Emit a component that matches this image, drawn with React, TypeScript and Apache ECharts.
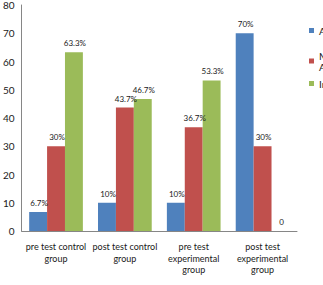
import React, { useEffect, useRef } from "react";
import * as echarts from "echarts";

const categories = [
  "pre test control\ngroup",
  "post test control\ngroup",
  "pre test\nexperimental\ngroup",
  "post test\nexperimental\ngroup",
];
const seriesNames = ["Adequate", "Moderately\nAdequate", "Inadequate"];
const adequate = [6.7, 10, 10, 70];
const moderate = [30, 43.7, 36.7, 30];
const inadequate = [63.3, 46.7, 53.3, 0];
const yTicks = { min: 0, max: 80, interval: 10 };

const colors = ["#4F81BD", "#C0504D", "#9BBB59"];
const font = "Lato, 'Liberation Sans', Arial, sans-serif";
const ink = "#1a1a1a";

const fmt = (v: number) => (v === 0 ? "0" : `${v}%`);

export default function App() {
  const ref = useRef<HTMLDivElement>(null);
  useEffect(() => {
    if (!ref.current) return;
    const chart = echarts.init(ref.current, undefined, { renderer: "svg" });
    const values = [adequate, moderate, inadequate];
    chart.setOption({
      animation: false,
      textStyle: { fontFamily: font },
      grid: { left: 20, right: 26, top: 3, bottom: 54, containLabel: false },
      legend: [25, 50, 78].map((top, i) => ({
        data: [seriesNames[i]],
        orient: "vertical",
        left: 309,
        top,
        padding: 0,
        itemWidth: 5,
        itemHeight: 5,
        icon: "rect",
        textStyle: { fontSize: 10, color: ink, fontFamily: font, lineHeight: 11 },
      })),
      xAxis: {
        type: "category",
        data: categories,
        axisLine: { lineStyle: { color: "#868686" } },
        axisTick: { show: false },
        axisLabel: { fontSize: 9, color: ink, margin: 10, lineHeight: 11.5, interval: 0, fontFamily: font },
      },
      yAxis: {
        type: "value",
        ...yTicks,
        axisLine: { show: true, lineStyle: { color: "#868686" } },
        axisTick: { show: false },
        splitLine: { show: false },
        axisLabel: { fontSize: 10, color: ink, margin: 7, fontFamily: font },
      },
      series: seriesNames.map((name, i) => ({
        name,
        type: "bar",
        data: values[i],
        barGap: "0%",
        barCategoryGap: "22%",
        itemStyle: { color: colors[i] },
        label: {
          show: true,
          position: "top",
          distance: 5,
          offset: [1, 0],
          fontSize: 8,
          color: ink,
          fontFamily: font,
          formatter: (p: any) => fmt(p.value),
        },
      })),
    });
    return () => chart.dispose();
  }, []);
  return (
    <div
      ref={ref}
      style={{ position: "absolute", left: 0, top: 0, width: 323, height: 285 }}
    />
  );
}
